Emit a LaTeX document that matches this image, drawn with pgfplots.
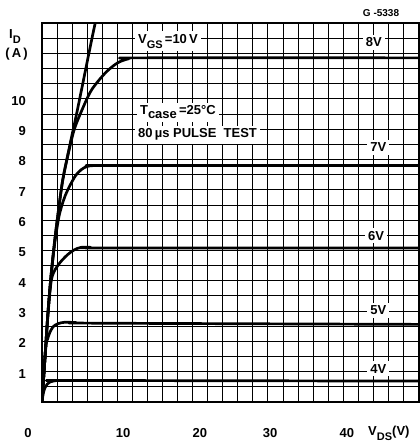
\documentclass[border=0pt]{standalone}
\usepackage{fontspec}
\setmainfont{Liberation Sans}
\usepackage{pgfplots}
\pgfplotsset{compat=1.18}
\pgfplotsset{curve/.style={black, solid, line width=2.7pt, mark=none, smooth, tension=0.5, line join=round}}
\newcommand\lab{\fontsize{13}{15}\selectfont\bfseries}
\newcommand\sub[1]{\raisebox{-5pt}{\fontsize{11}{12}\selectfont\bfseries #1}}
\begin{document}
\begin{tikzpicture}
\begin{axis}[
  at={(42pt,43pt)}, anchor=south west,
  scale only axis, width=378pt, height=379pt,
  xmin=0, xmax=50.2, ymin=0, ymax=12.5,
  xtick={10.76,20.98,30.3,40.5},
  xticklabels={10,20,30,40},
  ytick={1,2,3,4,5,6,7,8,9,10},
  yticklabels={1,2,3,4,5,6,7,8,9,10},
  minor xtick={0,2,...,50},
  minor ytick={0,0.5,...,12.5},
  grid=minor,
  minor grid style={black, line width=0.8pt},
  major tick length=0pt, minor tick length=0pt,
  axis line style={black, line width=1.6pt},
  xticklabel style={font=\lab, anchor=center, yshift=-31pt},
  yticklabel style={font=\lab, anchor=east, inner sep=0pt, xshift=-16pt, yshift=-2pt},
  /pgf/number format/assume math mode=true,
  clip mode=individual,
]
% VGS = 10 V
\addplot[curve] coordinates {(0,0)(0.4,1.49)(0.8,2.97)(1.2,4.16)(1.7,5.35)(2.2,6.34)(2.76,7.33)(3.73,8.51)(4.7,9.63)(6.6,11.95)(7.5,13.0)};
% VGS = 8 V
\addplot[curve] coordinates {(0,0)(0.4,1.49)(0.8,2.97)(1.2,4.16)(1.7,5.35)(2.2,6.34)(2.76,7.33)(3.5,8.2)(4.3,9.0)(5.5,9.74)(6.6,10.3)(8.4,10.85)(10,11.18)(11.5,11.32)(13,11.35)(50.2,11.35)};
% VGS = 7 V
\addplot[curve] coordinates {(0,0)(0.4,1.49)(0.8,2.97)(1.2,4.16)(1.7,5.25)(2.2,6.05)(2.6,6.45)(3.24,6.9)(4.36,7.43)(5.2,7.66)(6.0,7.77)(7,7.8)(9,7.8)(50.2,7.8)};
% VGS = 6 V
\addplot[curve] coordinates {(0,0)(0.4,1.49)(0.8,2.9)(1.2,3.95)(1.6,4.3)(2.4,4.6)(3.4,4.86)(4.3,5.02)(5.2,5.1)(6.5,5.1)(8,5.08)(50.2,5.08)};
% VGS = 5 V
\addplot[curve] coordinates {(0,0)(0.5,1.78)(0.75,2.08)(1.02,2.28)(1.47,2.48)(2.1,2.58)(3,2.63)(4.5,2.62)(7,2.6)(50.2,2.56)};
% VGS = 4 V
\addplot[curve] coordinates {(0,0)(0.15,0.25)(0.36,0.45)(0.7,0.59)(1.0,0.65)(1.5,0.69)(2.1,0.71)(4,0.71)(50.2,0.69)};

\node[font=\lab, anchor=center] at (axis cs:-1.86,0) [yshift=-31pt] {0};
\node[font=\lab, anchor=base west, inner sep=0pt] at (axis cs:43.3,-1.09) {V\sub{DS}(V)};
\node[font=\lab, anchor=base west, inner sep=0pt] at (axis cs:-4.38,12.0) {I\sub{D}};
\node[font=\lab, anchor=base west, inner sep=0pt] at (axis cs:-4.9,11.35) {(\,A\,)};
\node[font=\fontsize{10}{12}\selectfont\bfseries, anchor=base west, inner sep=0pt] at (axis cs:42.6,12.7) {G -5338};

\node[font=\lab, anchor=base west, fill=white, inner sep=3pt] at (axis cs:12.35,11.84) {V\sub{GS}\,=10\,V};
\node[font=\lab, anchor=base west, fill=white, inner sep=3pt] at (axis cs:12.6,9.47) {T\raisebox{-4pt}{case}\,=25°C};
\node[font=\lab, anchor=base west, fill=white, inner sep=3pt] at (axis cs:12.35,8.71) {80\,µs PULSE\ \ TEST};

\node[font=\lab, anchor=base west, fill=white, inner sep=3pt] at (axis cs:42.6,11.71) {8V};
\node[font=\lab, anchor=base west, fill=white, inner sep=3pt] at (axis cs:43.2,8.25) {7V};
\node[font=\lab, anchor=base west, fill=white, inner sep=3pt] at (axis cs:42.9,5.34) {6V};
\node[font=\lab, anchor=base west, fill=white, inner sep=3pt] at (axis cs:43.2,2.87) {5V};
\node[font=\lab, anchor=base west, fill=white, inner sep=3pt] at (axis cs:43.2,0.95) {4V};
\end{axis}
\pgfresetboundingbox
\path[use as bounding box] (0,0) rectangle (420pt,445pt);
\end{tikzpicture}
\end{document}
